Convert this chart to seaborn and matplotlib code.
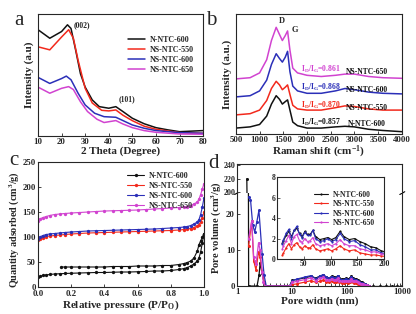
import numpy as np
import pandas as pd
import seaborn as sns
import matplotlib.pyplot as plt

# ---------------- data ----------------
names = ["N-NTC-600", "NS-NTC-550", "NS-NTC-600", "NS-NTC-650"]
colors = ["#111111", "#f2291c", "#2b2fb8", "#d143d0"]

# (a) XRD
xrd_x = {
    "N-NTC-600": [10, 15, 20, 22.5, 24, 26, 28, 30, 33, 36, 40, 43, 46, 50, 55, 60, 65, 70, 80],
    "NS-NTC-550": [10, 15, 20, 23, 25, 27, 30, 33, 37, 40, 43, 46, 50, 55, 60, 70, 80],
    "NS-NTC-600": [10, 15, 20, 22, 24, 27, 30, 34, 38, 43, 46, 50, 55, 60, 70, 80],
    "NS-NTC-650": [10, 15, 20, 23, 25, 28, 31, 35, 38, 43, 46, 50, 55, 60, 70, 80],
}
xrd_y = {
    "N-NTC-600": [0.87, 0.80, 0.855, 0.91, 0.88, 0.70, 0.51, 0.40, 0.295, 0.24, 0.227, 0.24, 0.20, 0.145, 0.10, 0.068, 0.05, 0.035, 0.044],
    "NS-NTC-550": [0.73, 0.705, 0.81, 0.87, 0.80, 0.62, 0.39, 0.27, 0.21, 0.205, 0.213, 0.17, 0.125, 0.08, 0.055, 0.027, 0.022],
    "NS-NTC-600": [0.48, 0.43, 0.47, 0.49, 0.46, 0.35, 0.254, 0.186, 0.158, 0.153, 0.126, 0.09, 0.063, 0.044, 0.027, 0.022],
    "NS-NTC-650": [0.40, 0.35, 0.39, 0.404, 0.38, 0.28, 0.20, 0.137, 0.11, 0.126, 0.098, 0.068, 0.044, 0.03, 0.016, 0.014],
}

# (b) Raman
raman_x = [500, 800, 1000, 1150, 1250, 1350, 1420, 1480, 1540, 1590, 1640, 1700, 1800,
           2000, 2300, 2600, 2800, 3000, 3300, 3600, 4000]
raman_y = {
    "N-NTC-600": [0.05, 0.06, 0.08, 0.15, 0.25, 0.32, 0.29, 0.25, 0.27, 0.285, 0.20, 0.10, 0.07,
                  0.05, 0.05, 0.06, 0.065, 0.06, 0.04, 0.03, 0.02],
    "NS-NTC-550": [0.16, 0.17, 0.20, 0.28, 0.38, 0.44, 0.41, 0.37, 0.39, 0.41, 0.33, 0.24, 0.21,
                   0.20, 0.20, 0.22, 0.235, 0.23, 0.21, 0.20, 0.20],
    "NS-NTC-600": [0.31, 0.32, 0.36, 0.45, 0.58, 0.67, 0.63, 0.60, 0.64, 0.69, 0.52, 0.40, 0.36,
                   0.34, 0.34, 0.36, 0.38, 0.37, 0.35, 0.34, 0.335],
    "NS-NTC-650": [0.46, 0.47, 0.51, 0.62, 0.78, 0.89, 0.83, 0.78, 0.82, 0.86, 0.70, 0.55, 0.51,
                   0.49, 0.48, 0.49, 0.50, 0.50, 0.48, 0.47, 0.465],
}
ratio_text = {"N-NTC-600": "0.857", "NS-NTC-550": "0.870", "NS-NTC-600": "0.868", "NS-NTC-650": "0.861"}
label_y = {"N-NTC-600": 0.08, "NS-NTC-550": 0.22, "NS-NTC-600": 0.37, "NS-NTC-650": 0.52}

# (c) N2 isotherms
p_ads = [0.0, 0.01, 0.03, 0.05, 0.07, 0.1, 0.13, 0.16, 0.2, 0.25, 0.3, 0.35, 0.4, 0.45, 0.5,
         0.55, 0.6, 0.65, 0.7, 0.75, 0.8, 0.85, 0.88, 0.9, 0.92, 0.94, 0.96, 0.97, 0.98, 0.99, 1.0]
q_ads = {
    "N-NTC-600": [19, 21, 23, 24, 25, 26, 26.5, 27, 27.5, 28, 28.5, 29, 29, 29.5, 30, 30, 30.5,
                  31, 32, 32, 33, 35, 37, 39, 42, 46, 52, 58, 70, 88, 107],
    "NS-NTC-550": [95, 97, 99, 101, 102, 103, 104, 105, 106, 107, 108, 108.5, 109, 109.5, 110, 110.5,
                   111, 111.5, 112, 112.5, 113, 114, 115, 116, 117, 119, 122, 125, 130, 138, 150],
    "NS-NTC-600": [97, 100, 103, 105, 106, 107, 108, 109, 110, 111, 112, 112.5, 113, 113.5, 114, 114.5,
                   115, 115.5, 116, 117, 118, 119, 120, 121, 123, 126, 130, 135, 145, 160, 178],
    "NS-NTC-650": [133, 136, 139, 141, 143, 145, 146, 147, 148, 149, 150, 151, 152, 152.5, 153, 153.5,
                   154, 155, 156, 157, 158, 159, 160, 161, 163, 166, 170, 176, 185, 196, 207],
}
p_des_black = [1.0, 0.99, 0.98, 0.97, 0.96, 0.94, 0.92, 0.9, 0.88, 0.85, 0.8, 0.75, 0.7, 0.65,
               0.6, 0.55, 0.5, 0.45, 0.4, 0.35, 0.3, 0.25, 0.2, 0.16, 0.14]
q_des_black = [107, 100, 92, 85, 72, 58, 52, 49, 47, 45, 43, 43, 42, 42, 42, 41, 41, 41, 40, 40,
               40, 40, 40, 40, 40]

# (d) pore size distribution
micro_x = {
    "N-NTC-600": [1.5, 1.62, 2.3, 2.5, 2.62, 2.84, 3.09, 3.3, 9.0],
    "NS-NTC-550": [1.61, 1.84, 2.0, 2.2, 2.45, 2.62, 2.84, 3.09, 3.3, 9.0],
    "NS-NTC-600": [1.61, 1.75, 1.92, 2.09, 2.28, 2.49, 2.84, 3.09, 3.38, 9.0],
    "NS-NTC-650": [1.61, 1.84, 2.0, 2.2, 2.45, 2.62, 2.84, 3.0, 3.2, 9.0],
}
micro_y = {
    "N-NTC-600": [220, 0, 0, 3, 6.5, 3.5, 1, 0, 0],
    "NS-NTC-550": [11, 18, 7, 4.5, 9.5, 8, 4, 1, 0, 0],
    "NS-NTC-600": [24.7, 24, 17, 15, 17.8, 21, 9, 3, 0, 0],
    "NS-NTC-650": [13, 18, 8, 6, 12, 10, 4, 1, 0, 0],
}
meso_x = [10, 12, 17, 22, 27, 32, 37, 42, 47, 52, 57, 62, 67, 72, 80, 88, 95, 102, 110, 118,
          125, 135, 145, 155, 165, 175, 185, 195, 210, 230, 250]
meso_y = {
    "N-NTC-600": [1.6, 1.8, 2.3, 2.7, 2.2, 2.8, 3.0, 2.5, 2.2, 2.7, 2.4, 2.4, 2.8, 2.2, 1.9, 2.0,
                  2.1, 1.9, 2.1, 2.7, 2.2, 1.9, 2.0, 1.7, 1.5, 1.2, 1.1, 0.8, 0.6, 0.4, 0],
    "NS-NTC-550": [0.4, 0.6, 1.1, 1.5, 1.0, 1.4, 1.6, 1.2, 1.0, 1.3, 1.1, 1.1, 1.4, 1.0, 0.8, 0.9,
                   1.0, 0.8, 1.0, 1.3, 1.0, 0.8, 0.9, 0.6, 0.5, 0.4, 0.4, 0.3, 0.2, 0.1, 0],
    "NS-NTC-600": [1.5, 1.9, 2.5, 2.9, 2.0, 2.8, 3.2, 2.4, 2.1, 2.6, 2.3, 2.3, 2.8, 2.0, 1.7, 1.8,
                   2.0, 1.7, 1.9, 2.5, 2.0, 1.7, 1.8, 1.4, 1.2, 0.9, 0.9, 0.6, 0.5, 0.3, 0],
    "NS-NTC-650": [1.0, 1.3, 1.8, 2.3, 1.5, 2.2, 2.4, 1.8, 1.6, 2.0, 1.7, 1.8, 2.1, 1.5, 1.3, 1.4,
                   1.5, 1.3, 1.5, 1.9, 1.5, 1.3, 1.3, 1.0, 0.9, 0.7, 0.7, 0.5, 0.4, 0.2, 0],
}
tail_x = [300, 400, 500, 650, 800, 1000]
tail_y = [0, 0, 0, 0, 0, 0]

# ---------------- style ----------------
sns.set_style("ticks", {"xtick.direction": "in", "ytick.direction": "in"})
plt.rcParams["font.family"] = ["Liberation Serif", "DejaVu Serif"]
plt.rcParams["font.weight"] = "bold"
plt.rcParams["axes.labelweight"] = "bold"
plt.rcParams["mathtext.fontset"] = "custom"
plt.rcParams["mathtext.rm"] = "Liberation Serif:bold"
plt.rcParams["mathtext.bf"] = "Liberation Serif:bold"
plt.rcParams["mathtext.default"] = "rm"
plt.rcParams["axes.linewidth"] = 0.8

TICK = 6.3
LAB = 8
fig = plt.figure(figsize=(4.16, 3.14), dpi=100)


def fmt(ax):
    ax.tick_params(labelsize=TICK, length=2.5, width=0.6, pad=1.5)
    for lab in ax.get_xticklabels() + ax.get_yticklabels():
        lab.set_fontweight("bold")


def line(ax, x, y, c, lw=0.9, marker=None, ms=2.2, label=None):
    sns.lineplot(x=x, y=y, ax=ax, color=c, lw=lw, marker=marker, markersize=ms,
                 markeredgewidth=0, estimator=None, sort=False, label=label, legend=False)


# ---- (a) ----
ax_a = fig.add_axes([0.0913, 0.567, 0.397, 0.389])
for n, c in zip(names, colors):
    line(ax_a, xrd_x[n], xrd_y[n], c, lw=1.1, label=n)
ax_a.set_xlim(10, 80)
ax_a.set_ylim(0, 1)
ax_a.set_yticks([])
ax_a.set_xticks(range(10, 81, 10))
ax_a.set_xlabel("2 Theta (Degree)", fontsize=LAB, labelpad=0)
ax_a.set_ylabel("Intensity (a.u)", fontsize=LAB, labelpad=3)
ax_a.text(28.5, 0.91, "(002)", fontsize=5.5, ha="center", va="center")
ax_a.text(47.5, 0.30, "(101)", fontsize=5.5, ha="center", va="center")
ax_a.legend(loc="upper right", bbox_to_anchor=(0.99, 0.88), frameon=False, fontsize=5.8,
            handlelength=2.2, labelspacing=0.25, handletextpad=0.6)
fmt(ax_a)

# ---- (b) ----
ax_b = fig.add_axes([0.567, 0.573, 0.399, 0.382])
for n, c in zip(names, colors):
    line(ax_b, raman_x, raman_y[n], c, lw=1.1)
    ax_b.text(1870, label_y[n] + 0.02, "I$_D$/I$_G$=" + ratio_text[n], color=c, fontsize=5.5,
              ha="left", va="center")
    ax_b.text(3270, label_y[n], n, color="#111111", fontsize=5.5, ha="center", va="center")
ax_b.text(1470, 0.94, "D", fontsize=6, ha="center", va="center")
ax_b.text(1745, 0.87, "G", fontsize=6, ha="center", va="center")
ax_b.set_xlim(500, 4000)
ax_b.set_ylim(0, 1)
ax_b.set_yticks([])
ax_b.set_xticks(range(500, 4001, 500))
ax_b.set_xlabel("Raman shift (cm$^{-1}$)", fontsize=LAB, labelpad=0)
ax_b.set_ylabel("Intensity (a.u.)", fontsize=LAB, labelpad=3)
fmt(ax_b)

# ---- (c) ----
ax_c = fig.add_axes([0.0913, 0.086, 0.399, 0.398])
for n, c in zip(names, colors):
    line(ax_c, p_ads, q_ads[n], c, lw=0.8, marker="o", ms=2.4, label=n)
line(ax_c, p_des_black, q_des_black, colors[0], lw=0.8, marker="o", ms=2.4)
ax_c.set_xlim(0, 1.0)
ax_c.set_ylim(0, 250)
ax_c.set_xticks([0.0, 0.2, 0.4, 0.6, 0.8, 1.0])
ax_c.set_xticklabels(["0.0", "0.2", "0.4", "0.6", "0.8", "1.0"])
ax_c.set_yticks(range(0, 251, 50))
ax_c.set_xlabel("Relative pressure (P/P$_\\mathrm{O}$)", fontsize=LAB, labelpad=0)
ax_c.set_ylabel("Quantity adsorbed (cm$^3$/g)", fontsize=7.3, labelpad=1)
ax_c.yaxis.set_label_coords(-0.1, 0.46)
ax_c.legend(loc="upper right", bbox_to_anchor=(0.98, 0.98), frameon=False, fontsize=5.8,
            handlelength=2.2, labelspacing=0.25, handletextpad=0.6)
fmt(ax_c)
ax_c.tick_params(axis="x", pad=2.5)

# ---- (d) broken axis ----
ax_lo = fig.add_axes([0.570, 0.089, 0.397, 0.296])
ax_hi = fig.add_axes([0.570, 0.385, 0.397, 0.092], sharex=ax_lo)
for ax in (ax_lo, ax_hi):
    for n, c in zip(names, colors):
        line(ax, micro_x[n] + meso_x, micro_y[n] + meso_y[n], c, lw=0.9, marker="o", ms=2.2)
    line(ax, tail_x, tail_y, colors[0], lw=0.9, marker="o", ms=2.2)
    ax.set_xscale("log")
    ax.set_xlim(1, 1000)
ax_lo.set_ylim(0, 25.8)
ax_hi.set_ylim(199, 241.5)
ax_lo.set_yticks([0, 10, 20])
ax_hi.set_yticks([200, 220, 240])
ax_lo.spines["top"].set_visible(False)
ax_hi.spines["bottom"].set_visible(False)
ax_hi.tick_params(axis="x", which="both", bottom=False, labelbottom=False)
ax_lo.set_xticks([1, 10, 100, 1000])
ax_lo.set_xticklabels(["1", "10", "100", "1000"])
ax_lo.set_xlabel("Pore width (nm)", fontsize=LAB, labelpad=0)
ax_lo.set_ylabel("")
ax_hi.set_ylabel("")
for xx in (0, 1):
    ax_lo.plot([xx - 0.015, xx + 0.015], [0.985, 1.015], transform=ax_lo.transAxes,
               color="k", lw=0.8, clip_on=False)
fmt(ax_lo)
fmt(ax_hi)
ax_hi.tick_params(labelsize=5.8, pad=1)
fig.text(0.519, 0.275, "Pore volume (cm$^3$/g)", rotation=90, fontsize=7.6,
         fontweight="bold", ha="center", va="center")

# inset
ax_in = fig.add_axes([0.666, 0.175, 0.257, 0.261])
for n, c in zip(names, colors):
    line(ax_in, meso_x, meso_y[n], c, lw=0.8, marker="o", ms=1.6, label=n)
ax_in.set_xlim(0, 200)
ax_in.set_ylim(0, 8)
ax_in.set_xticks([50, 100, 150, 200])
ax_in.set_yticks([0, 2, 4, 6, 8])
ax_in.legend(loc="upper right", bbox_to_anchor=(0.98, 0.92), frameon=False, fontsize=5.5,
             handlelength=1.8, labelspacing=0.2, handletextpad=0.6)
ax_in.tick_params(labelsize=5.5, length=2, width=0.5, pad=1)
for lab in ax_in.get_xticklabels() + ax_in.get_yticklabels():
    lab.set_fontweight("bold")

# panel letters
for xy, s in [((0.045, 0.935), "a"), ((0.508, 0.935), "b"), ((0.033, 0.49), "c"), ((0.513, 0.48), "d")]:
    fig.text(xy[0], xy[1], s, fontsize=15, fontweight="normal", ha="center", va="center")

fig.savefig("out.png", dpi=100)
